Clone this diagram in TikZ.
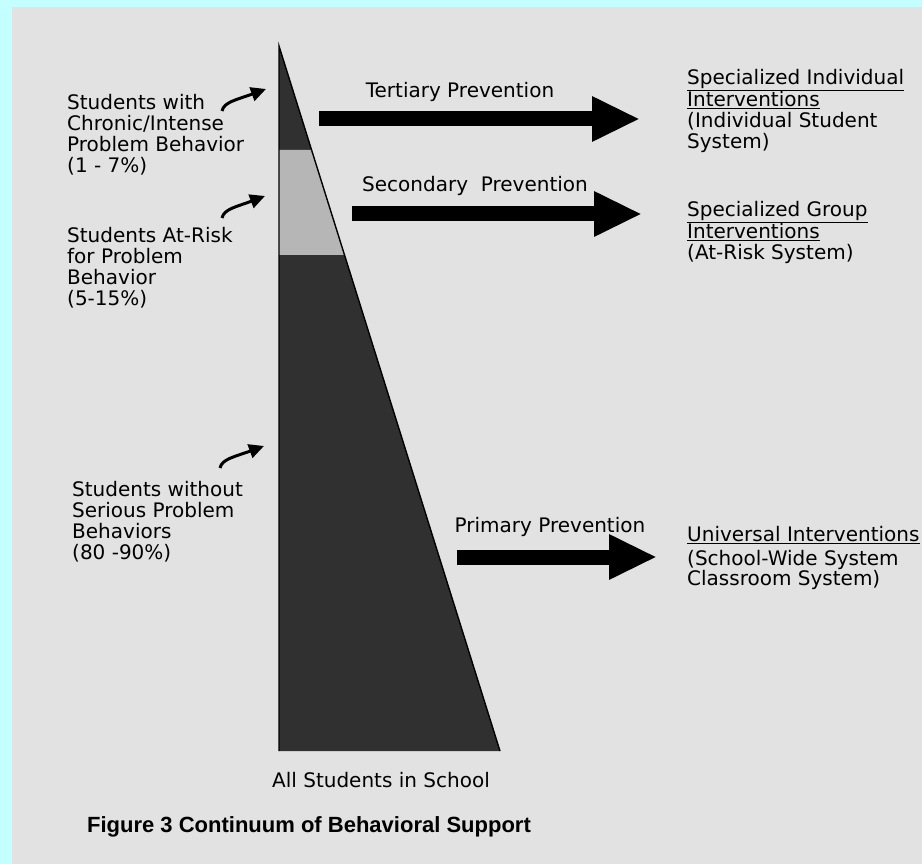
\documentclass[tikz,border=0pt]{standalone}
\usepackage{fontspec}
\setmainfont{DejaVu Sans}
\newfontfamily\capfont{Liberation Sans}
\usetikzlibrary{arrows.meta}
\definecolor{bordercyan}{RGB}{196,255,255}
\definecolor{paper}{RGB}{226,226,226}
\definecolor{darkband}{RGB}{48,48,48}
\definecolor{lightband}{RGB}{182,182,182}

\begin{document}
\begin{tikzpicture}[x=1pt,y=-1pt,
    lbl/.style={anchor=north west,inner sep=0,align=left,font=\fontsize{20}{21}\selectfont},
    ttl/.style={anchor=north,inner sep=0,font=\fontsize{20}{21}\selectfont},
    bigarrow/.style={line width=15pt,-{Triangle[length=48pt,width=42pt]}},
    hookarrow/.style={line width=3pt,-{Triangle[length=15pt,width=14pt]}}]
    \fill [bordercyan] (0,0) rectangle (922,864);
    \fill [paper] (12,7) rectangle (922,864);
    \useasboundingbox (0,0) rectangle (922,864);

    % the triangle, three bands
    \fill [darkband] (279,46) -- (311.6,150) -- (279,150) -- cycle;
    \fill [lightband] (279,150) -- (311.6,150) -- (344.5,255) -- (279,255) -- cycle;
    \fill [darkband] (279,255) -- (344.5,255) -- (500,751) -- (279,751) -- cycle;
    \draw [line width=1.4pt] (279,751) -- (279,46) -- (500,751);

    % prevention arrows
    \coordinate (tertS) at (319,119);
    \coordinate (tertE) at (640,119);
    \coordinate (secS) at (352,214);
    \coordinate (secE) at (642,214);
    \coordinate (primS) at (457,557);
    \coordinate (primE) at (657,557);
    \draw [bigarrow] (tertS) -- (tertE);
    \draw [bigarrow] (secS) -- (secE);
    \draw [bigarrow] (primS) -- (primE);
    \node [ttl] (tert) at (460,82) {Tertiary Prevention};
    \node [ttl] (sec) at (475,176) {Secondary\ \ Prevention};
    \node [ttl] (prim) at (550,517) {Primary Prevention};

    % groups of students
    \node [lbl] (chronic) at (67,94) {Students with\\Chronic/Intense\\Problem Behavior\\(1 - 7\%)};
    \node [lbl] (atrisk) at (67,227) {Students At-Risk\\for Problem\\Behavior\\(5-15\%)};
    \node [lbl] (without) at (72,481) {Students without\\Serious Problem\\Behaviors\\(80 -90\%)};
    \coordinate (chronicT) at (222,111);
    \coordinate (chronicH) at (266,89);
    \coordinate (atriskT) at (222,218);
    \coordinate (atriskH) at (265,196);
    \coordinate (withoutT) at (220,468);
    \coordinate (withoutH) at (264,446);
    \draw [hookarrow] (chronicT) .. controls (224,102) and (236,100) .. (chronicH);
    \draw [hookarrow] (atriskT) .. controls (224,209) and (236,207) .. (atriskH);
    \draw [hookarrow] (withoutT) .. controls (222,459) and (234,457) .. (withoutH);

    % interventions
    \node [lbl] (indiv) at (687,69) {\underline{Specialized Individual}\\\underline{Interventions}\\(Individual Student\\System)};
    \node [lbl] (group) at (687,201) {\underline{Specialized Group}\\\underline{Interventions}\\(At-Risk System)};
    \node [lbl] (univ) at (687,526) {\underline{Universal Interventions}\\[3pt](School-Wide System\\[-1pt]Classroom System)};

    \node [ttl] (all) at (381,772) {All Students in School};
    \node [anchor=north,inner sep=0,font=\capfont\bfseries\fontsize{22}{24}\selectfont] (caption) at (309,816) {Figure 3 Continuum of Behavioral Support};
\end{tikzpicture}
\end{document}
